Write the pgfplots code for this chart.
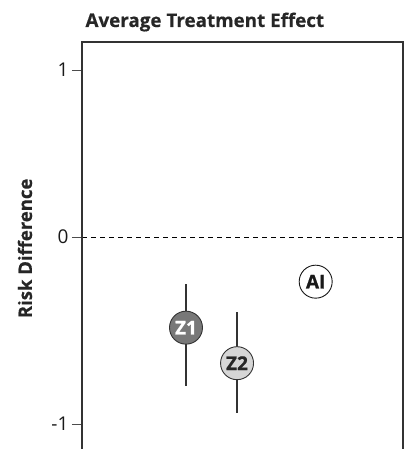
\documentclass[border=0pt]{standalone}
\usepackage{pgfplots}
\pgfplotsset{compat=1.18}
\usepackage{pgfplotstable}
\usepackage{fontspec}
\setmainfont{Open Sans}
\newfontfamily\osheavy{Open Sans}[BoldFeatures={FakeBold=0.8}]
\newfontfamily\osmid{Open Sans}[BoldFeatures={FakeBold=0.4}]
\definecolor{zonedark}{HTML}{787878}
\definecolor{zonelight}{HTML}{D6D6D6}
\definecolor{edge}{HTML}{333333}

\pgfplotstableread{
x y ep em
3.24 -0.485 0.234 0.312
4.83 -0.675 0.274 0.266
}\bars

\begin{document}
\begin{tikzpicture}
\begin{axis}[name=ax, width=321pt, height=407pt, scale only axis,
  xmin=0, xmax=10, ymin=-1.134, ymax=1.043,
  axis line style={draw=none},
  xtick=\empty,
  ytick={-1,0,0.893}, yticklabels={-1,0,1},
  ytick pos=left, tick align=outside, major tick length=10pt,
  tick style={black!70, line width=0.8pt},
  yticklabel style={font=\fontsize{19}{19}\selectfont, text=black!90},
  every axis y label/.style={at={(axis description cs:-0.156,0.493)}, rotate=90, anchor=base, font=\osmid\fontsize{18.5}{18.5}\selectfont\bfseries, text=black!85},
  ylabel={Risk Difference},
  every axis title/.style={at={(axis description cs:0,1)}, anchor=base west, yshift=15pt, font=\osmid\fontsize{18.8}{18.8}\selectfont\bfseries, text=black!85},
  title={Average Treatment Effect},
  clip=false]
\addplot[black, dash pattern=on 5pt off 4pt, line width=0.8pt] coordinates {(0,0) (10,0)};
\addplot[draw=none, mark=none, error bars/.cd, y dir=both, y explicit,
  error bar style={draw=edge, line width=1.4pt}, error mark=none]
  table[x=x, y=y, y error plus=ep, y error minus=em] {\bars};
\addplot[only marks, mark=*, mark size=16.5pt, mark options={fill=zonedark, draw=edge, line width=0.9pt},
  nodes near coords={Z1}, every node near coord/.append style={anchor=center, text=white, font=\osheavy\fontsize{19}{19}\selectfont\bfseries}]
  coordinates {(3.24,-0.485)};
\addplot[only marks, mark=*, mark size=16.5pt, mark options={fill=zonelight, draw=edge, line width=0.9pt},
  nodes near coords={Z2}, every node near coord/.append style={anchor=center, text=black!85, font=\osheavy\fontsize{19}{19}\selectfont\bfseries}]
  coordinates {(4.83,-0.675)};
\addplot[only marks, mark=*, mark size=16.5pt, mark options={fill=white, draw=black!90, line width=0.9pt},
  nodes near coords={AI}, every node near coord/.append style={anchor=center, text=black!90, font=\osheavy\fontsize{19}{19}\selectfont\bfseries}]
  coordinates {(7.28,-0.239)};
\end{axis}
\draw[edge, line width=1.3pt] (ax.south west) -- (ax.north west) -- (ax.north east) -- (ax.south east);
\pgfresetboundingbox
\path[use as bounding box] ([xshift=-82pt]ax.south west) rectangle ([xshift=1pt, yshift=42pt]ax.north east);
\end{tikzpicture}
\end{document}
